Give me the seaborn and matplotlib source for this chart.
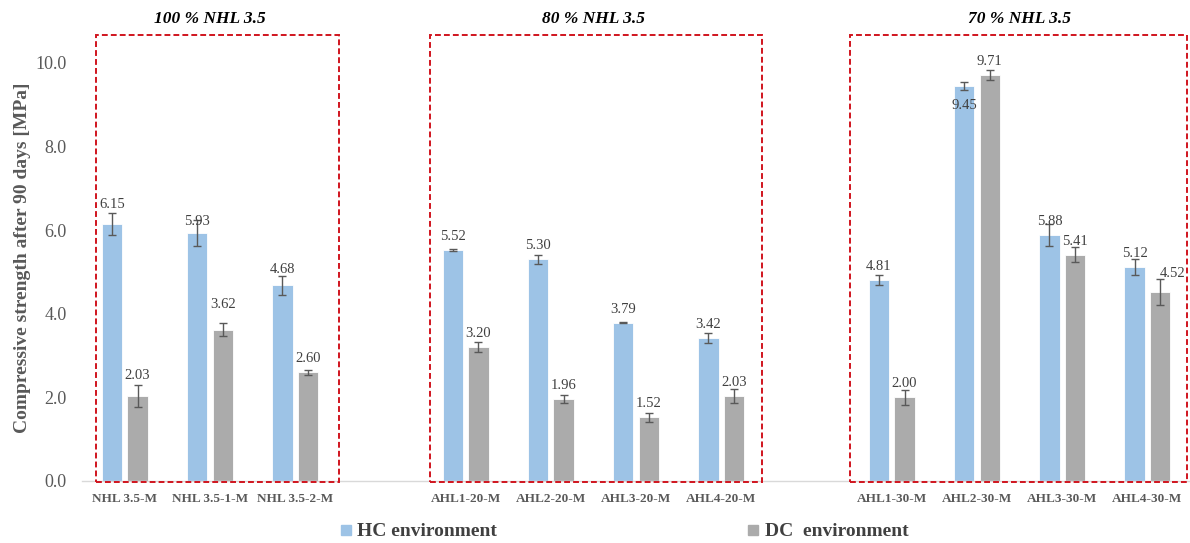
import pandas as pd
import matplotlib.pyplot as plt
import seaborn as sns
from matplotlib.patches import Rectangle
from matplotlib.lines import Line2D

# --- datos ---
samples = ["NHL 3.5-M", "NHL 3.5-1-M", "NHL 3.5-2-M",
           "AHL1-20-M", "AHL2-20-M", "AHL3-20-M", "AHL4-20-M",
           "AHL1-30-M", "AHL2-30-M", "AHL3-30-M", "AHL4-30-M"]
hc_vals = [6.15, 5.93, 4.68, 5.52, 5.30, 3.79, 3.42, 4.81, 9.45, 5.88, 5.12]
dc_vals = [2.03, 3.62, 2.60, 3.20, 1.96, 1.52, 2.03, 2.00, 9.71, 5.41, 4.52]
hc_err = [0.26, 0.31, 0.22, 0.02, 0.11, 0.01, 0.12, 0.11, 0.10, 0.26, 0.20]
dc_err = [0.26, 0.15, 0.06, 0.12, 0.10, 0.11, 0.16, 0.18, 0.12, 0.18, 0.32]
group_titles = ["100 % NHL 3.5", "80 % NHL 3.5", "70 % NHL 3.5"]
group_sizes = [3, 4, 4]
env_labels = ["HC environment", "DC  environment"]

colors = ["#9DC3E6", "#ABABAB"]
txt_gray = "#595959"
lbl_gray = "#404040"

# tabla larga para seaborn
df = pd.DataFrame({
    "sample": samples * 2,
    "env": [env_labels[0]] * len(samples) + [env_labels[1]] * len(samples),
    "value": hc_vals + dc_vals,
    "err": hc_err + dc_err,
})

# orden con huecos entre grupos
order = []
groups = []
start = 0
for i, n in enumerate(group_sizes):
    members = samples[start:start + n]
    groups.append((len(order), len(order) + n - 1))
    order += members
    if i < len(group_sizes) - 1:
        order.append(" " * (i + 1))
    start += n

sns.set_theme(style="white")
plt.rcParams["font.family"] = ["Liberation Serif", "DejaVu Serif"]

fig = plt.figure(figsize=(11.9, 5.43), dpi=100)
ax = fig.add_axes([0.069, 0.1142, 0.931, 0.8237])

sns.barplot(data=df, x="sample", y="value", hue="env", order=order,
            hue_order=env_labels, palette=colors, saturation=1, width=0.6,
            gap=0.2, errorbar=None, edgecolor="white", linewidth=0.6,
            legend=False, ax=ax)

# ajustes de etiquetas (px): (dx, dy)
label_adj = {("NHL 3.5-M", 0): (0, 19), ("NHL 3.5-M", 1): (0, 21),
             ("NHL 3.5-1-M", 0): (0, 12), ("NHL 3.5-1-M", 1): (0, 25),
             ("NHL 3.5-2-M", 0): (0, 16), ("AHL2-30-M", 0): (0, -20),
             ("AHL4-30-M", 1): (12, 19)}
px = 72 / fig.dpi

bars = [p for p in ax.patches if isinstance(p, Rectangle) and p.get_height() > 0]
for bar in bars:
    x = bar.get_x() + bar.get_width() / 2
    idx = int(round(x))
    name = order[idx]
    h = 0 if x < idx else 1
    row = df[(df["sample"] == name) & (df["env"] == env_labels[h])].iloc[0]
    ax.errorbar(x, row["value"], yerr=row["err"], fmt="none",
                ecolor="#595959", elinewidth=1, capsize=3, capthick=1)
    dx, dy = label_adj.get((name, h), (0, 13.5))
    ax.annotate(f"{row['value']:.2f}", xy=(x, row["value"]),
                xytext=(dx * px, dy * px), textcoords="offset points",
                ha="center", va="center", fontsize=10.5, color=lbl_gray)

# cajas rojas y titulos de grupo
pads = [(0.34, 0.51), (0.42, 0.48), (0.49, 0.47)]
for (a, b), title, (pl, pr) in zip(groups, group_titles, pads):
    ax.add_patch(Rectangle((a - pl, -0.03), (b + pr) - (a - pl), 10.71,
                           fill=False, edgecolor="#D0141E", linewidth=1.4,
                           linestyle=(0, (3, 1.6)), clip_on=False, zorder=5))
    ax.text((a + b) / 2, 11.05, title, ha="center", va="center",
            fontsize=12.5, fontweight="bold", fontstyle="italic", color="black")

ax.set_xlim(-0.5, len(order) - 0.5)
ax.set_ylim(0, 10.7)
ax.set_yticks([0, 2, 4, 6, 8, 10])
ax.set_yticklabels([f"{v:.1f}" for v in [0, 2, 4, 6, 8, 10]])
ax.tick_params(axis="y", length=0, labelsize=13, labelcolor=txt_gray, pad=11)
ax.tick_params(axis="x", length=0, labelsize=9.5, labelcolor=txt_gray, pad=9)
for t in ax.get_xticklabels():
    t.set_fontweight("bold")
ax.set_xlabel("")
ax.set_ylabel("Compressive strength after 90 days [MPa]", fontsize=14,
              fontweight="bold", color=txt_gray, labelpad=3)
for s in ["left", "right", "top"]:
    ax.spines[s].set_visible(False)
ax.spines["bottom"].set_color("#D9D9D9")
ax.spines["bottom"].set_linewidth(1)

handles = [Line2D([], [], marker="s", linestyle="", markersize=7.5,
                  markerfacecolor=c, markeredgecolor=c) for c in colors]
fig.legend(handles, env_labels, loc="center", bbox_to_anchor=(0.524, 0.021),
           ncol=2, frameon=False, columnspacing=12.8, handletextpad=0.25,
           handlelength=0.7, labelcolor=lbl_gray,
           prop={"family": "Liberation Serif", "weight": "bold", "size": 14})

fig.savefig("out.png", dpi=100)
